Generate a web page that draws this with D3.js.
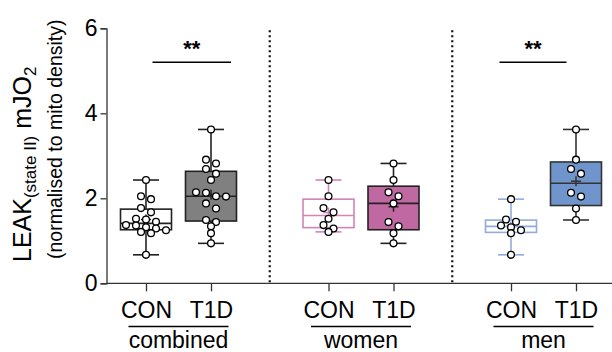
<!DOCTYPE html>
<html><head><meta charset="utf-8">
<script src="https://cdn.jsdelivr.net/npm/d3@7"></script>
<style>body{margin:0;background:#fff}svg{display:block}text{font-family:"Liberation Sans",Arial,sans-serif}</style>
</head><body><svg id="c" width="612" height="352"></svg>
<script>
// ---- data ----
const groups = ["combined", "women", "men"];
const conditions = ["CON", "T1D"];
const womenCON = [2.43, 2.05, 1.77, 1.67, 1.52, 1.37, 1.29, 1.21];
const womenT1D = [2.82, 2.43, 2.14, 2.05, 1.88, 1.44, 1.34, 1.18, 0.94];
const menCON   = [1.98, 1.50, 1.45, 1.36, 1.32, 1.25, 1.18, 0.67];
const menT1D   = [3.62, 2.91, 2.69, 2.58, 2.13, 2.04, 1.76, 1.49];
const combinedCON = womenCON.concat(menCON);
const combinedT1D = womenT1D.concat(menT1D);
const yTicks = [0, 2, 4, 6];
const significant = ["combined", "men"];   // CON vs T1D, p<0.01
const sigLabel = "**";
const sigLevel = 5.2;

const series = [
  {group:"combined", cond:"CON", values:combinedCON, fill:"#ffffff", stroke:"#222222"},
  {group:"combined", cond:"T1D", values:combinedT1D, fill:"#808080", stroke:"#222222"},
  {group:"women",    cond:"CON", values:womenCON,    fill:"#ffffff", stroke:"#d184b9"},
  {group:"women",    cond:"T1D", values:womenT1D,    fill:"#c068a2", stroke:"#222222"},
  {group:"men",      cond:"CON", values:menCON,      fill:"#ffffff", stroke:"#91acdd"},
  {group:"men",      cond:"T1D", values:menT1D,      fill:"#7095cc", stroke:"#333333"}
];

const svg = d3.select("#c");
const y = d3.scaleLinear().domain([0, 6]).range([283.3, 28.3]);
const gx = d3.scalePoint().domain(groups).range([178.5, 543.5]);
const cx = d3.scalePoint().domain(conditions).range([-32.5, 32.5]);
const xPos = (g, c) => gx(g) + cx(c);
const xAxisLeft = 106.5, xAxisRight = 612;
const FONT = '"Liberation Sans",Arial,sans-serif';

// Prism-style quartiles
function quant(s, p) {
  const n = s.length, pos = p * (n + 1), lo = Math.floor(pos), f = pos - lo;
  if (lo < 1) return s[0];
  if (lo >= n) return s[n - 1];
  return s[lo - 1] + f * (s[lo] - s[lo - 1]);
}

// separators
const seps = [ (gx("combined") + gx("women")) / 2, (gx("women") + gx("men")) / 2 ];
svg.selectAll("line.sep").data(seps).join("line")
  .attr("x1", d => d).attr("x2", d => d)
  .attr("y1", y(6) + 2).attr("y2", y(0))
  .attr("stroke", "#111").attr("stroke-width", 2.2).attr("stroke-dasharray", "2,3");

// axes
const yAxis = svg.append("g").attr("transform", `translate(${xAxisLeft},0)`)
  .call(d3.axisLeft(y).tickValues(yTicks).tickFormat(d3.format("d")).tickSize(6).tickPadding(3));
yAxis.selectAll("text").attr("font-size", 23).attr("fill", "#000").attr("font-family", FONT);
yAxis.selectAll("line,path").attr("stroke", "#333").attr("stroke-width", 1.3);

const keys = [];
groups.forEach(g => conditions.forEach(c => keys.push(g + "|" + c)));
const xOrd = d3.scaleOrdinal().domain(keys).range(keys.map(k => xPos(...k.split("|"))));
const xAxis = svg.append("g").attr("transform", `translate(0,${y(0)})`)
  .call(d3.axisBottom(xOrd).tickSize(8).tickPadding(10).tickFormat(k => k.split("|")[1]));
xAxis.select(".domain").remove();
xAxis.selectAll("text").attr("font-size", 23).attr("fill", "#000").attr("font-family", FONT);
xAxis.selectAll("line").attr("stroke", "#333").attr("stroke-width", 1.3);
svg.append("line").attr("x1", xAxisLeft).attr("x2", xAxisRight).attr("y1", y(0)).attr("y2", y(0))
  .attr("stroke", "#333").attr("stroke-width", 1.3);

// group labels with underline
groups.forEach(g => {
  svg.append("line").attr("x1", gx(g) - 50).attr("x2", gx(g) + 50).attr("y1", 326.5).attr("y2", 326.5)
    .attr("stroke", "#000").attr("stroke-width", 1.5);
  svg.append("text").attr("x", gx(g)).attr("y", 348).attr("text-anchor", "middle")
    .attr("font-size", 23).text(g);
});

// boxes
const bw = 51, cap = 26, r = 3.4;
series.forEach(s => {
  const x0 = xPos(s.group, s.cond);
  const v = s.values.slice().sort(d3.ascending);
  const q1 = quant(v, 0.25), med = quant(v, 0.5), q3 = quant(v, 0.75);
  const mn = v[0], mx = v[v.length - 1], mean = d3.mean(v);
  const g = svg.append("g");
  const sw = 1.6;
  g.append("line").attr("x1", x0).attr("x2", x0).attr("y1", y(mx)).attr("y2", y(q3)).attr("stroke", s.stroke).attr("stroke-width", sw);
  g.append("line").attr("x1", x0).attr("x2", x0).attr("y1", y(q1)).attr("y2", y(mn)).attr("stroke", s.stroke).attr("stroke-width", sw);
  [mx, mn].forEach(t => g.append("line").attr("x1", x0 - cap / 2).attr("x2", x0 + cap / 2)
    .attr("y1", y(t)).attr("y2", y(t)).attr("stroke", s.stroke).attr("stroke-width", sw));
  g.append("rect").attr("x", x0 - bw / 2).attr("width", bw).attr("y", y(q3)).attr("height", y(q1) - y(q3))
    .attr("fill", s.fill).attr("stroke", s.stroke).attr("stroke-width", sw);
  g.append("line").attr("x1", x0 - bw / 2).attr("x2", x0 + bw / 2).attr("y1", y(med)).attr("y2", y(med))
    .attr("stroke", s.stroke).attr("stroke-width", sw);
  g.append("line").attr("x1", x0 - 5).attr("x2", x0 + 5).attr("y1", y(mean)).attr("y2", y(mean)).attr("stroke", s.stroke).attr("stroke-width", 1.5);
  g.append("line").attr("x1", x0).attr("x2", x0).attr("y1", y(mean) - 5).attr("y2", y(mean) + 5).attr("stroke", s.stroke).attr("stroke-width", 1.5);

  // points: rows of near-equal values spread symmetrically
  const pts = v.map(d => ({v: d, py: y(d)})).sort((a, b) => a.py - b.py);
  const rows = [];
  pts.forEach(p => {
    const last = rows[rows.length - 1];
    if (last && p.py - last[0].py < 5.5) last.push(p); else rows.push([p]);
  });
  rows.forEach(row => row.forEach((p, i) => { p.px = x0 + (i - (row.length - 1) / 2) * 10; }));
  g.selectAll("circle").data(pts).join("circle")
    .attr("cx", p => p.px).attr("cy", p => p.py).attr("r", r)
    .attr("fill", "#fff").attr("stroke", "#000").attr("stroke-width", 1.3);
});

// significance bars (extent relative to group centre, as drawn in the reference)
const sigExtent = {combined: [-26, 52.5], men: [-44, 23]};
significant.forEach(gname => {
  const [a, b] = sigExtent[gname];
  const x1 = gx(gname) + a, x2 = gx(gname) + b;
  svg.append("line").attr("x1", x1).attr("x2", x2)
    .attr("y1", y(sigLevel)).attr("y2", y(sigLevel)).attr("stroke", "#000").attr("stroke-width", 1.5);
  svg.append("text").attr("x", (x1 + x2) / 2).attr("y", y(sigLevel) - 6)
    .attr("text-anchor", "middle").attr("font-size", 22).attr("font-weight", "bold").text(sigLabel);
});

// y label
const yl = svg.append("g").attr("transform", "translate(31,0) rotate(-90)");
const t1 = yl.append("text").attr("x", -262).attr("text-anchor", "start").attr("font-size", 25);
t1.append("tspan").text("LEAK");
t1.append("tspan").attr("font-size", 17).attr("dy", 5).text("(state II)");
t1.append("tspan").attr("dy", -5).text(" mJO");
t1.append("tspan").attr("font-size", 17).attr("dy", 5).text("2");
yl.append("text").attr("x", -259).attr("y", 31).attr("text-anchor", "start").attr("font-size", 19.5)
  .text("(normalised to mito density)");
</script></body></html>
